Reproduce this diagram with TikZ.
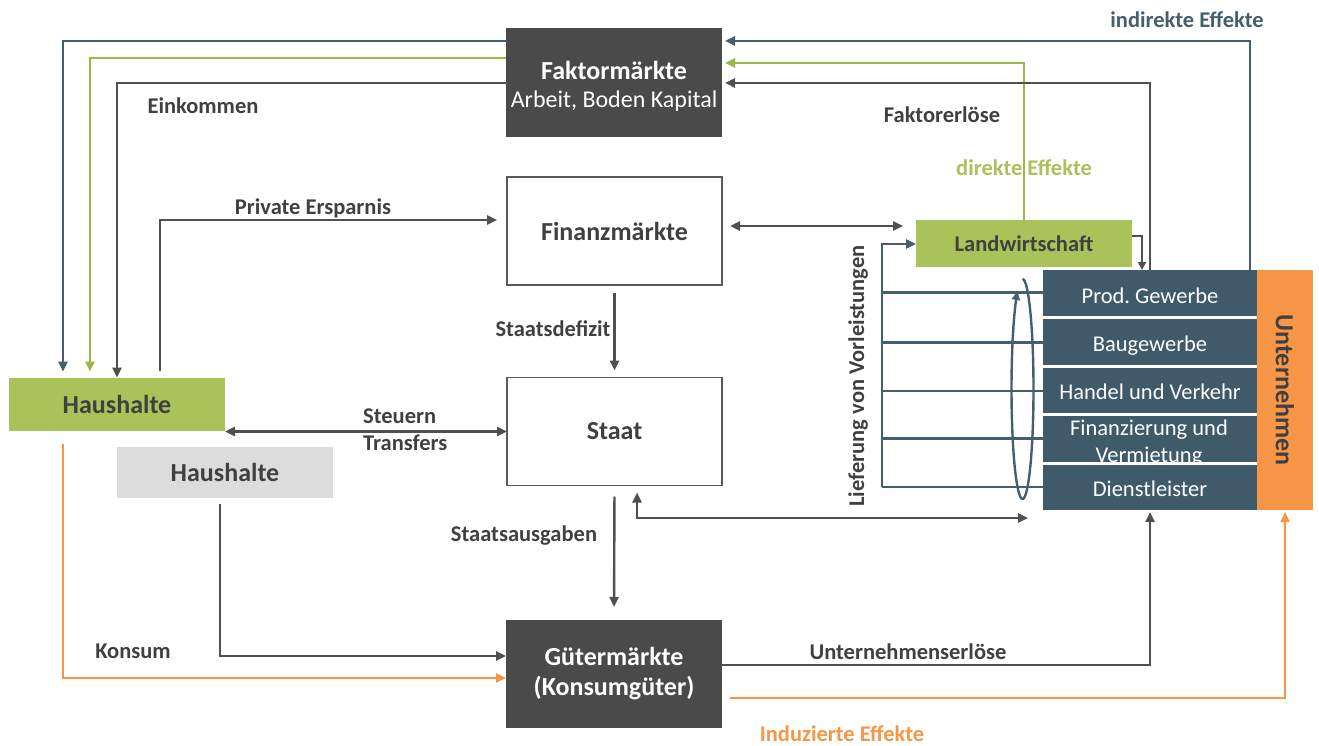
\documentclass[tikz,border=0pt]{standalone}
\usepackage{fontspec}
\setmainfont{Carlito}
\usetikzlibrary{arrows.meta,calc}
\definecolor{boxgray}{HTML}{4A4A4A}
\definecolor{linegray}{HTML}{505050}
\definecolor{txtgray}{HTML}{404040}
\definecolor{frame}{HTML}{5A5A5A}
\definecolor{tealbox}{HTML}{405A6A}
\definecolor{tealline}{HTML}{44606F}
\definecolor{greenbox}{HTML}{A9C25A}
\definecolor{greenline}{HTML}{9BB84A}
\definecolor{orangeb}{HTML}{F79646}
\definecolor{lightbox}{HTML}{DCDCDC}
\newcommand\fmain{\fontsize{26}{31}\selectfont\bfseries}
\newcommand\fsubt{\fontsize{24}{30}\selectfont}
\newcommand\flab{\fontsize{22.5}{27}\selectfont\bfseries}
\newcommand\fsec{\fontsize{22.5}{27}\selectfont}
\begin{document}
\begin{tikzpicture}[x=1pt,y=-1pt,
  box/.style={inner sep=0pt,outer sep=0pt,align=center},
  secbox/.style={box,fill=tealbox,minimum width=214pt,text=white,font=\fsec,text height=21pt,text depth=2pt},
  lab/.style={inner sep=0pt,text=txtgray,font=\flab},
  conn/.style={line width=2.4pt,draw=linegray},
  tealc/.style={line width=2.4pt,draw=tealline},
  greenc/.style={line width=2.4pt,draw=greenline},
  orangec/.style={line width=2.4pt,draw=orangeb},
  tip/.style={-{Triangle[length=10pt,width=9pt]}},
  dtip/.style={{Triangle[length=10pt,width=9pt]}-{Triangle[length=10pt,width=9pt]}},
]
\useasboundingbox (0,0) rectangle (1319,746);

% boxes
\node[box,fill=boxgray,minimum width=216pt,minimum height=109pt,text=white,font=\fsubt] (fm) at (614,82.5)
  {{\fmain\rule{0pt}{26pt}Faktormärkte}\\[-2pt]Arbeit, Boden Kapital};
\node[box,fill=white,draw=frame,line width=1.5pt,minimum width=215pt,minimum height=108pt,text=txtgray,font=\fmain] (fin) at (614.5,231) {Finanzmärkte};
\node[box,fill=white,draw=frame,line width=1.5pt,minimum width=215pt,minimum height=108pt,text=txtgray,font=\fmain] (staat) at (614.5,431.5) {Staat};
\node[box,fill=boxgray,minimum width=216pt,minimum height=108pt,text=white,font=\fmain] (gm) at (614,674)
  {Gütermärkte\\[-1pt](Konsumgüter)};
\node[box,fill=greenbox,minimum width=216pt,minimum height=53pt,text=txtgray,font=\fmain] (hh1) at (117,404) {Haushalte};
\node[box,fill=lightbox,minimum width=216pt,minimum height=51pt,text=txtgray,font=\fmain] (hh2) at (225,472.5) {Haushalte};
\node[box,fill=greenbox,minimum width=216pt,minimum height=47pt,text=txtgray,font=\flab] (lw) at (1024,243.5) {Landwirtschaft};

% Unternehmen sectors
\node[secbox,minimum height=47pt] (prod) at (1150,293.5) {Prod.\ Gewerbe};
\node[secbox,minimum height=49pt] (bau) at (1150,341.5) {Baugewerbe};
\node[secbox,minimum height=48pt] (handel) at (1150,390) {Handel und Verkehr};
\node[secbox,minimum height=49pt,anchor=north] (finv) at (1150,414) {};
\node[inner sep=0pt,text=white,font=\fsec,align=center] (finvt) at (1149,443) {Finanzierung und\\Vermietung};
\node[secbox,minimum height=47pt] (dienst) at (1150,486.5) {Dienstleister};
\foreach \yy in {317,366,414,463}
  \draw[white,line width=3pt] (1043,\yy) -- (1258,\yy);
\node[box,fill=orangeb,minimum width=56pt,minimum height=240pt,
  label={[rotate=-90,text=txtgray,font=\fmain]center:Unternehmen}] (unt) at (1285,390) {};

% coordinates
\coordinate (ti) at (1250,41);
\coordinate (tl) at (63,41);
\coordinate (gi) at (1024,63);
\coordinate (gl) at (90,58);
\coordinate (fr) at (1150,83);
\coordinate (el) at (117,83);
\coordinate (pe) at (160,220);
\coordinate (fl) at (800,226);
\coordinate (su) at (637,518);
\coordinate (suend) at (1028,518);
\coordinate (hg) at (220,656);
\coordinate (ko) at (63,678);
\coordinate (ue) at (1150,665);
\coordinate (ie) at (1285,698);
\coordinate (lv) at (882,244);
\coordinate (lvb) at (882,487);

% indirect effects (teal)
\draw[tealc,tip,shorten >=3pt] (prod.north -| ti) -- (ti) -- (fm.east |- ti);
\draw[tealc,tip,shorten >=6pt] (fm.west |- tl) -- (tl) -- (hh1.north -| tl);
% direct effects (green)
\draw[greenc,tip,shorten >=3pt] (lw.north) -- (gi) -- (fm.east |- gi);
\draw[greenc,tip,shorten >=6pt] (fm.west |- gl) -- (gl) -- (hh1.north -| gl);
% Faktorerloese / Einkommen
\draw[conn,tip,shorten >=3pt] (prod.north -| fr) -- (fr) -- (fm.east |- fr);
\draw[conn,tip] (fm.west |- el) -- (el) -- (hh1.north -| el);
% Private Ersparnis
\draw[conn,tip,shorten <=7pt,shorten >=10pt] (hh1.north -| pe) -- (pe) -- (fin.west |- pe);
% Finanzmaerkte <-> Landwirtschaft
\draw[conn,dtip,shorten <=8pt,shorten >=13pt] (fin.east |- fl) -- (lw.west |- fl);
% Staatsdefizit
\draw[conn,tip,shorten <=8pt,shorten >=7pt] (fin.south) -- (staat.north);
% Steuern / Transfers
\draw[conn,dtip] (staat.west -| hh1.east) -- (staat.west);
% Staatsausgaben
\draw[conn,tip,shorten <=11pt,shorten >=13pt] (staat.south) -- (gm.north);
% Staat <-> Unternehmen
\draw[conn,dtip,shorten <=7pt] (staat.south -| su) -- (su) -- (suend);
% Haushalte (grey) -> Guetermaerkte
\draw[conn,tip,shorten <=6pt] (hh2.south -| hg) -- (hg) -- (gm.west |- hg);
% Konsum
\draw[orangec,tip,shorten <=13pt] (hh1.south -| ko) -- (ko) -- (gm.west |- ko);
% Unternehmenserloese
\draw[conn,tip,shorten >=2pt] (gm.east |- ue) -- (ue) -- (dienst.south);
% Induzierte Effekte
\draw[orangec,tip,shorten <=8pt,shorten >=2pt] (gm.east |- ie) -- (ie) -- (unt.south);
% Landwirtschaft -> Unternehmen
\coordinate (lwu) at (1142,236);
\draw[conn,line width=2pt,-{Triangle[length=8pt,width=8pt]}] (lw.east |- lwu) -- (lwu) -- (prod.north -| lwu);

% Lieferung von Vorleistungen
\draw[tealc,tip] (lvb) -- (lv) -- (lw.west |- lv);
\draw[tealc] (lv |- prod.west) ++(0,-1) coordinate (h1) -- (prod.west |- h1);
\draw[tealc] (lv |- bau.west) ++(0,1) coordinate (h2) -- (bau.west |- h2);
\draw[tealc] (lv |- handel.west) ++(0,1) coordinate (h3) -- (handel.west |- h3);
\draw[tealc] (lv |- finv.west) coordinate (h4) -- (finv.west |- h4);
\draw[tealc] (lvb) -- (dienst.west |- lvb);
\draw[tealc,{Triangle[length=9pt,width=8pt]}-] plot[domain=-243:90,samples=80,smooth]
  ({1022.5+11*cos(\x)},{389-110*sin(\x)});

% labels
\node[lab] (l1) at (203,106) {Einkommen};
\node[lab] (l2) at (942,115) {Faktorerlöse};
\node[lab,text=greenbox] (l3) at (1024,168) {direkte Effekte};
\node[lab,text=tealline] (l4) at (1187,20) {indirekte Effekte};
\node[lab] (l5) at (313,208) {Private Ersparnis};
\node[lab] (l6) at (553,329) {Staatsdefizit};
\node[lab,anchor=west] (l7) at (363,416) {Steuern};
\node[lab,anchor=west] (l8) at (363,443) {Transfers};
\node[lab] (l9) at (524,536) {Staatsausgaben};
\node[lab] (l10) at (133,651) {Konsum};
\node[lab] (l11) at (908,652) {Unternehmenserlöse};
\node[lab,text=orangeb] (l12) at (842,734) {Induzierte Effekte};
\node[lab,rotate=90] (l13) at (858,376) {Lieferung von Vorleistungen};
\end{tikzpicture}
\end{document}
